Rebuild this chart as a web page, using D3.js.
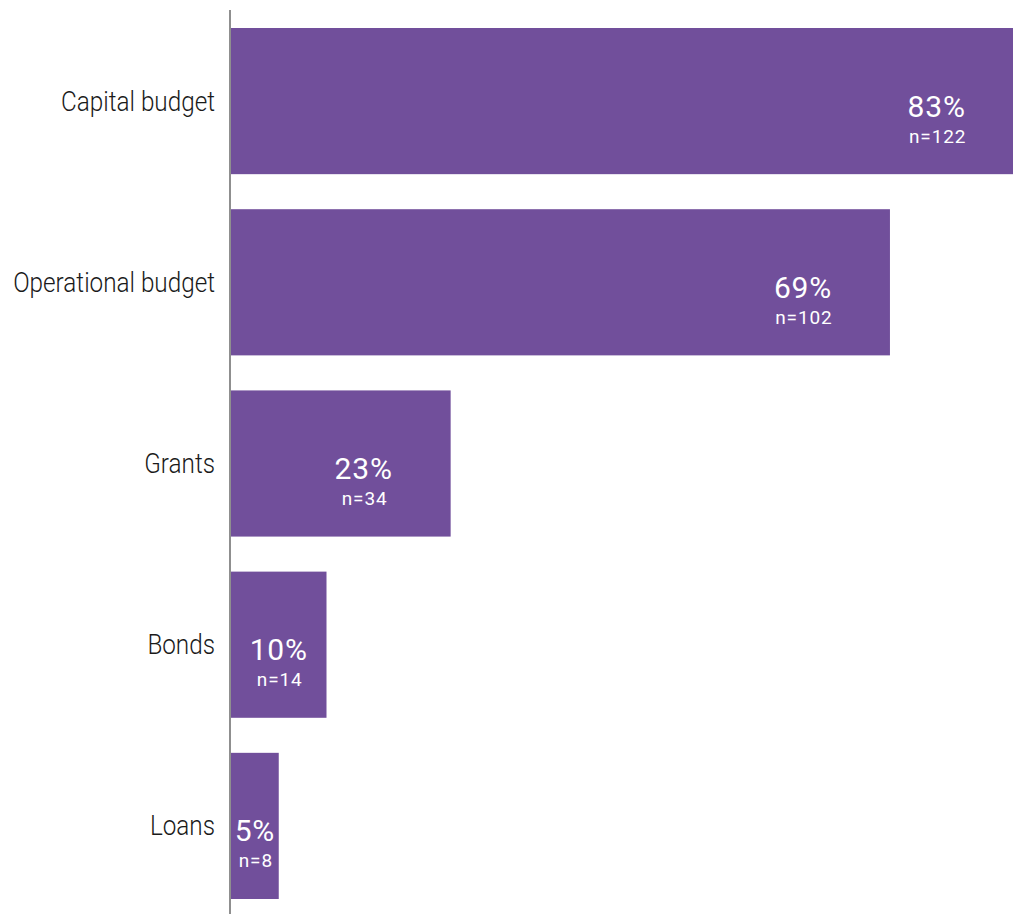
<!DOCTYPE html>
<html>
<head>
<meta charset="utf-8">
<script src="https://cdn.jsdelivr.net/npm/d3@7"></script>
<style>
  html, body { margin: 0; padding: 0; background: #fff; }
  svg { display: block; }
</style>
</head>
<body>
<svg id="chart" width="1013" height="914"></svg>
<script>
// Funding sources: share of respondents and respondent counts
const categories = ["Capital budget", "Operational budget", "Grants", "Bonds", "Loans"];
const percents = [83, 69, 23, 10, 5];
const counts = [122, 102, 34, 14, 8];

const width = 1013, height = 914;
const barColor = "#714f9b";
const axisX = 231;
const labelRight = 215;
const labelMaxWidth = 202;

const svg = d3.select("#chart");

const x = d3.scaleLinear().domain([0, 100]).range([axisX, axisX + 955]);
const y = d3.scaleBand()
  .domain(categories)
  .range([28, 899])
  .paddingInner(35 / 181)
  .paddingOuter(0);

const rows = categories.map((c, i) => ({ cat: c, pct: percents[i], n: counts[i] }));

// bars
svg.append("g").selectAll("rect")
  .data(rows)
  .join("rect")
  .attr("x", x(0))
  .attr("y", d => y(d.cat))
  .attr("width", d => x(d.pct) - x(0))
  .attr("height", y.bandwidth())
  .attr("fill", barColor);

// vertical axis line
svg.append("line")
  .attr("x1", axisX - 1).attr("x2", axisX - 1)
  .attr("y1", 10).attr("y2", height)
  .attr("stroke", "#8f8f8f")
  .attr("stroke-width", 2);

// category labels, horizontally condensed so the longest fits the margin
const catG = svg.append("g");
const catTexts = rows.map(d => {
  const cy = y(d.cat) + y.bandwidth() / 2;
  return catG.append("text")
    .attr("text-anchor", "end")
    .attr("font-family", "Roboto, sans-serif")
    .attr("font-weight", 300)
    .attr("font-size", 28)
    .attr("fill", "#1a1a1a")
    .attr("data-cy", cy)
    .text(d.cat);
});
const longest = d3.max(catTexts, t => t.node().getComputedTextLength());
const squeeze = labelMaxWidth / longest;
catTexts.forEach(t => {
  t.attr("transform", `translate(${labelRight},${+t.attr("data-cy") + 9.5}) scale(${squeeze},1)`);
});

// value labels inside bars
const valG = svg.append("g");
rows.forEach(d => {
  const w = x(d.pct) - x(0);
  const cx = x(d.pct) - Math.min(87, w / 2);
  const cy = y(d.cat) + y.bandwidth() / 2;
  valG.append("text")
    .attr("x", cx)
    .attr("y", cy + 15.5)
    .attr("text-anchor", "middle")
    .attr("font-family", "Roboto, sans-serif")
    .attr("font-weight", 400)
    .attr("font-size", 30)
    .attr("letter-spacing", 0.8)
    .attr("fill", "#ffffff")
    .text(d.pct + "%");
  valG.append("text")
    .attr("x", cx + 1)
    .attr("y", cy + 41.5)
    .attr("text-anchor", "middle")
    .attr("font-family", "Roboto, sans-serif")
    .attr("font-weight", 400)
    .attr("font-size", 19)
    .attr("letter-spacing", 0.9)
    .attr("fill", "#ffffff")
    .text("n=" + d.n);
});
</script>
</body>
</html>
